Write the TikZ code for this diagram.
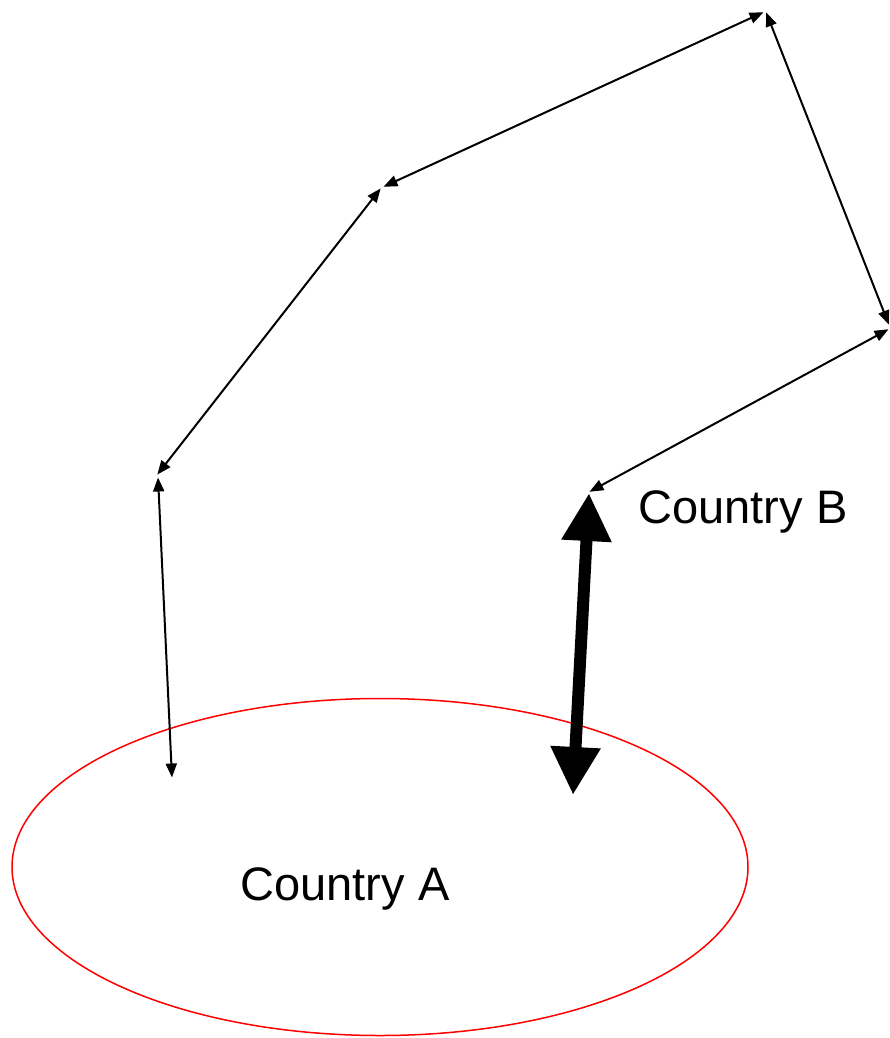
\documentclass[tikz,border=0pt]{standalone}
\usepackage{fontspec}
\setmainfont{Liberation Sans}
\usetikzlibrary{arrows.meta, shapes.geometric}
\definecolor{border}{HTML}{FF0000}

\begin{document}
\begin{tikzpicture}[
    x=1pt, y=-1pt,
    font=\fontsize{47}{56}\selectfont,
    hop/.style={{Triangle[length=14pt, width=11pt]}-{Triangle[length=14pt, width=11pt]}, line width=2pt, shorten <=0.5pt, shorten >=0.5pt},
    direct/.style={{Triangle[length=48pt, width=47pt]}-{Triangle[length=48pt, width=47pt]}, line width=12pt},
    region/.style={draw=border, ellipse, line width=1.5pt, minimum width=736pt, minimum height=337pt}
  ]
    \useasboundingbox (0,0) rectangle (890,1038);
    \node[region] (countryA) at (380,867) {};
    \node (labelA) at (345,889) {Country A};
    \node (labelB) at (743,512) {Country B};
    % route round the long way
    \coordinate (a0) at (172,778);
    \coordinate (a1) at (158,477);
    \coordinate (b0) at (157,475);
    \coordinate (b1) at (381,188);
    \coordinate (c0) at (383,187);
    \coordinate (c1) at (764,12);
    \coordinate (d0) at (766,12);
    \coordinate (d1) at (889,325);
    \coordinate (e0) at (889,329);
    \coordinate (e1) at (589,492);
    \draw[hop] (a0) -- (a1);
    \draw[hop] (b0) -- (b1);
    \draw[hop] (c0) -- (c1);
    \draw[hop] (d0) -- (d1);
    \draw[hop] (e0) -- (e1);
    % short direct link
    \coordinate (f0) at (589,493);
    \coordinate (f1) at (573,795);
    \draw[direct] (f0) -- (f1);
\end{tikzpicture}
\end{document}
